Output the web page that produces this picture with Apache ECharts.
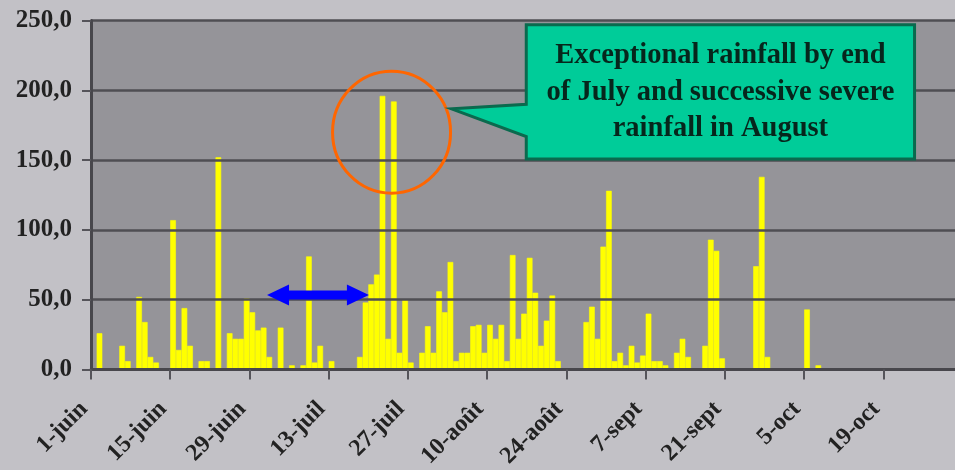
<!DOCTYPE html>
<html><head><meta charset="utf-8">
<script src="https://cdn.jsdelivr.net/npm/echarts@6/dist/echarts.min.js"></script>
<style>html,body{margin:0;padding:0;background:#c2c1c6}#c{width:955px;height:470px}</style>
</head><body><div id="c"></div>
<script>
// Calendar of the category axis (one category per day)
const months = [['juin', 30], ['juil', 31], ['août', 31], ['sept', 30], ['oct', 31]];
// Daily rainfall (mm)
const juneRain = [0, 26, 0, 0, 0, 17, 6, 0, 52, 34, 9, 5, 0, 0, 107, 14, 44, 17, 0, 6, 6, 0, 152, 0, 26, 22, 22, 51, 41, 28];
const julyRain = [30, 9, 0, 30, 0, 3, 0, 3, 81, 5, 17, 0, 6, 0, 0, 0, 0, 9, 48, 61, 68, 196, 22, 192, 12, 50, 5, 0, 12, 31, 12];
const augustRain = [56, 41, 77, 6, 12, 12, 31, 32, 12, 32, 22, 32, 6, 82, 22, 40, 80, 55, 17, 35, 53, 6, 0, 0, 0, 0, 34, 45, 22, 88, 128];
const septRain = [6, 12, 3, 17, 5, 10, 40, 6, 6, 3, 0, 12, 22, 9, 0, 0, 17, 93, 85, 8, 0, 0, 0, 0, 0, 74, 138, 9, 0, 0];
const octRain = [0, 0, 0, 0, 43, 0, 3, 0, 0, 0, 0, 0, 0, 0, 0, 0, 0, 0, 0, 0, 0, 0, 0, 0, 0, 0, 0, 0, 0, 0, 0];
// Axis tick labels
const tickLabels = ['1-juin', '15-juin', '29-juin', '13-juil', '27-juil', '10-août', '24-août', '7-sept', '21-sept', '5-oct', '19-oct'];
const yMin = 0, yMax = 250, yStep = 50;
// Annotation texts
const calloutLines = ['Exceptional rainfall by end', 'of July and successive severe', 'rainfall in August'];

const categories = [];
months.forEach(([m, n]) => { for (let d = 1; d <= n; d++) categories.push(d + '-' + m); });
const rain = [].concat(juneRain, julyRain, augustRain, septRain, octRain);
const showTick = (i, v) => tickLabels.indexOf(v) >= 0;

const serif = '"Liberation Serif", "Times New Roman", serif';
const chart = echarts.init(document.getElementById('c'), null, { renderer: 'canvas' });
chart.setOption({
  backgroundColor: '#c2c1c6',
  animation: false,
  grid: { left: 91, top: 20.5, width: 866, height: 349, show: true, backgroundColor: '#959499', borderWidth: 0,
    outerBoundsMode: 'none', containLabel: false },
  xAxis: {
    type: 'category', data: categories, boundaryGap: true, z: 5,
    axisLine: { show: true, lineStyle: { color: '#48474c', width: 3 } },
    axisTick: { show: true, length: 10, interval: showTick, lineStyle: { color: '#55545a', width: 2 } },
    axisLabel: { interval: showTick, rotate: 45, margin: 26, padding: [0, 14, 0, 0], color: '#222',
      fontFamily: serif, fontWeight: 'bold', fontSize: 24 },
    splitLine: { show: false }
  },
  yAxis: {
    type: 'value', min: yMin, max: yMax, interval: yStep, z: 5,
    axisLine: { show: true, lineStyle: { color: '#48474c', width: 3 } },
    axisTick: { show: true, length: 9, lineStyle: { color: '#55545a', width: 2 } },
    axisLabel: { margin: 19, color: '#222', fontFamily: serif, fontWeight: 'bold', fontSize: 25,
      formatter: v => v.toFixed(1).replace('.', ',') },
    splitLine: { show: true, lineStyle: { color: '#4f4e53', width: 2.5 } }
  },
  series: [{
    type: 'bar', data: rain, barCategoryGap: '0%',
    itemStyle: { color: '#ffff00', borderColor: '#ffff00', borderWidth: 0.6 }
  }]
});

const p0 = chart.convertToPixel({ gridIndex: 0 }, [0, 0]);
const p1 = chart.convertToPixel({ gridIndex: 0 }, [1, 50]);
const dx = p1[0] - p0[0], dyv = (p1[1] - p0[1]) / 50;
const X = i => p0[0] + i * dx;
const Y = v => p0[1] + v * dyv;

// Double arrow (data anchored)
const aL = X(30.6), aR = X(48.6), aY = Y(53.4);
const hl = 22, hh = 10.5, sh = 4.5;
// Circle
const cX = X(52.6), cY = Y(170);
// Callout
const bL = X(76.4), bR = X(145.0), bT = Y(247), bB = Y(150.7);
const tipX = X(63.2), tipY = Y(186.7), pTop = Y(190), pBot = Y(166.9);
const midX = (bL + bR) / 2;

chart.setOption({
  graphic: [
    { type: 'polygon', z: 10, shape: { points: [
        [aL, aY], [aL + hl, aY - hh], [aL + hl, aY - sh], [aR - hl, aY - sh], [aR - hl, aY - hh],
        [aR, aY], [aR - hl, aY + hh], [aR - hl, aY + sh], [aL + hl, aY + sh], [aL + hl, aY + hh]] },
      style: { fill: '#0000ff' } },
    { type: 'ellipse', z: 10, shape: { cx: cX, cy: cY, rx: 59, ry: 61 },
      style: { fill: 'none', stroke: '#ff6600', lineWidth: 3 } },
    { type: 'polygon', z: 10, shape: { points: [
        [bL, bT], [bR, bT], [bR, bB], [bL, bB], [bL, pBot], [tipX, tipY], [bL, pTop]] },
      style: { fill: '#00cc99', stroke: '#0a6a4e', lineWidth: 3, lineJoin: 'miter' } },
    ...calloutLines.map((t, k) => ({
      type: 'text', z: 11, x: midX, y: bT + 31 + k * 36.5,
      style: { text: t, fill: '#06261c', font: 'bold 28.5px ' + serif, textAlign: 'center', textVerticalAlign: 'middle' }
    }))
  ]
});
</script></body></html>
